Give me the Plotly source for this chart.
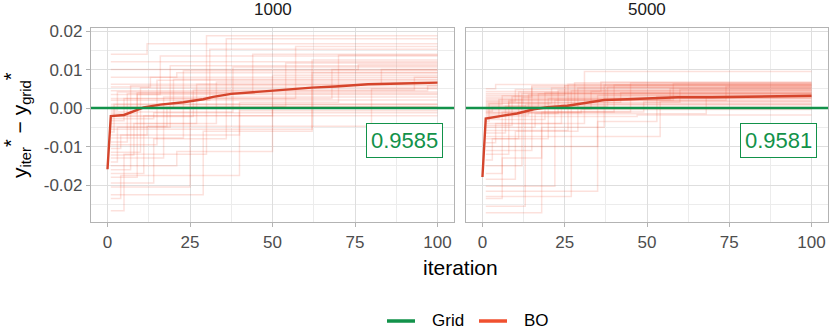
import plotly.graph_objects as go

W, H = 830, 329

# ---------------- data ----------------
panels = ["1000", "5000"]
best_scores = ["0.9585", "0.9581"]
legend_names = ["Grid", "BO"]

# individual BO runs: change points (iteration, y_iter* - y_grid*), held until iteration 100
runs_1000 = [
    [(1, -0.0267), (5, -0.0120), (30, 0.0188)],
    [(1, -0.0225), (29, -0.0060), (62, 0.0092)],
    [(1, -0.0205), (25, 0.0021)],
    [(1, -0.0195), (14, -0.0080), (36, 0.0180)],
    [(1, -0.0180), (9, 0.0040), (44, 0.0140)],
    [(1, -0.0170), (11, -0.0020), (50, 0.0085)],
    [(1, -0.0160), (7, 0.0058)],
    [(1, -0.0150), (21, -0.0113), (50, 0.0005)],
    [(1, -0.0140), (3, -0.0050), (19, 0.0110)],
    [(1, -0.0130), (17, 0.0029)],
    [(1, -0.0122), (8, -0.0040), (27, 0.0062), (83, 0.0100)],
    [(1, -0.0115), (10, 0.0053)],
    [(1, -0.0105), (4, -0.0070), (40, 0.0015), (70, 0.0137)],
    [(1, -0.0095), (15, 0.0072)],
    [(1, -0.0088), (6, 0.0038)],
    [(1, -0.0078), (23, 0.0097)],
    [(1, -0.0070), (12, -0.0047), (80, 0.0050)],
    [(1, -0.0062), (2, 0.0010)],
    [(1, -0.0055), (62, 0.0125)],
    [(1, -0.0048), (18, 0.0002)],
    [(1, -0.0040), (33, 0.0068)],
    [(1, -0.0033), (5, 0.0025), (57, 0.0160)],
    [(1, -0.0028), (14, -0.0012)],
    [(1, -0.0022), (26, 0.0047), (93, 0.0080)],
    [(1, -0.0015), (9, 0.0035)],
    [(1, -0.0010), (38, 0.0107)],
    [(1, -0.0005), (3, 0.0042)],
    [(1, 0.0000), (20, 0.0075)],
    [(1, 0.0005), (54, 0.0117)],
    [(1, 0.0010)],
    [(1, 0.0020), (31, 0.0153)],
    [(1, 0.0025), (68, 0.0100)],
    [(1, 0.0035), (16, 0.0135)],
    [(1, 0.0045), (97, 0.0058)],
    [(1, 0.0055), (13, 0.0080)],
    [(1, 0.0062)],
    [(1, 0.0080), (21, 0.0092)],
    [(1, 0.0100), (76, 0.0113)],
    [(1, 0.0120)],
    [(1, 0.0140), (12, 0.0167)],
    [(1, -0.0020)],
    [(1, -0.0235), (4, -0.0175), (40, -0.0007)],
]

runs_5000 = [
    [(1, -0.0272), (18, -0.0050), (37, 0.0060)],
    [(1, -0.0255), (13, 0.0010)],
    [(1, -0.0230), (27, 0.0045)],
    [(1, -0.0216), (35, -0.0035), (53, 0.0030)],
    [(1, -0.0203), (22, 0.0020)],
    [(1, -0.0185), (10, -0.0060), (29, 0.0052)],
    [(1, -0.0170), (6, -0.0010), (45, 0.0065)],
    [(1, -0.0150), (12, 0.0038)],
    [(1, -0.0135), (3, -0.0080), (20, 0.0025)],
    [(1, -0.0120), (8, 0.0015), (60, 0.0048)],
    [(1, -0.0110), (15, 0.0058)],
    [(1, -0.0100), (35, 0.0033)],
    [(1, -0.0090), (4, -0.0040), (24, 0.0008)],
    [(1, -0.0080), (11, 0.0042)],
    [(1, -0.0074), (54, 0.0018)],
    [(1, -0.0065), (7, 0.0005), (38, 0.0055)],
    [(1, -0.0058), (26, 0.0062)],
    [(1, -0.0050), (16, -0.0015), (68, 0.0028)],
    [(1, -0.0045), (9, 0.0030)],
    [(1, -0.0040), (31, 0.0095)],
    [(1, -0.0035), (2, 0.0012)],
    [(1, -0.0030), (19, 0.0040)],
    [(1, -0.0026), (5, 0.0022), (57, 0.0050)],
    [(1, -0.0022), (47, -0.0018)],
    [(1, -0.0018), (14, 0.0035)],
    [(1, -0.0014), (23, 0.0046)],
    [(1, -0.0010), (40, 0.0060)],
    [(1, -0.0008), (3, 0.0002)],
    [(1, -0.0005), (12, 0.0027)],
    [(1, -0.0002), (33, 0.0044)],
    [(1, 0.0000), (8, 0.0020), (74, 0.0056)],
    [(1, 0.0003), (17, 0.0037)],
    [(1, 0.0006), (28, 0.0066)],
    [(1, 0.0009), (6, 0.0032)],
    [(1, 0.0012), (21, 0.0052)],
    [(1, 0.0015), (42, 0.0040)],
    [(1, 0.0018), (10, 0.0048)],
    [(1, 0.0021), (58, 0.0063)],
    [(1, 0.0025)],
    [(1, 0.0029), (15, 0.0054)],
    [(1, 0.0033), (25, 0.0058)],
    [(1, 0.0038)],
    [(1, 0.0043), (36, 0.0068)],
    [(1, 0.0050), (4, 0.0061)],
    [(1, -0.0012), (30, -0.0004)],
    [(1, -0.0235), (6, -0.0130), (18, -0.0010), (49, 0.0016)],
]

# mean BO curve
mean_iter_1000 = [0, 1, 5, 8, 11, 16, 23, 29, 32, 37.5, 43.6, 48.7, 55.8, 61.9, 69, 79, 89, 100]
mean_val_1000 = [-0.0159, -0.0021, -0.0018, -0.0008, 0.0002, 0.0009, 0.0015, 0.0023, 0.0029,
                 0.0037, 0.0041, 0.0045, 0.0048, 0.0053, 0.0056, 0.0062, 0.0064, 0.0066]
mean_iter_5000 = [0, 1, 5.4, 10.5, 15.6, 19.7, 25.8, 31.9, 37, 44, 50, 59.4, 69.6, 79.8, 90, 100]
mean_val_5000 = [-0.0179, -0.0027, -0.0021, -0.0014, -0.0003, 0.0002, 0.0006, 0.0015, 0.0021,
                 0.0023, 0.0025, 0.0028, 0.0028, 0.0029, 0.0030, 0.0032]

grid_level = 0.0
label_x = 90
label_y = -0.0083
last_iter = 100

x_ticks = [0, 25, 50, 75, 100]
y_ticks = [-0.02, -0.01, 0.00, 0.01, 0.02]
y_tick_text = ["-0.02", "-0.01", "0.00", "0.01", "0.02"]

# ---------------- style ----------------
GREEN = "#12924a"
RED = "#f0502f"
RED_MEAN = "#d5452c"
RUN_COLOR = "rgba(240,80,47,0.17)"
FONT = "Liberation Sans, Arial, sans-serif"

fig = go.Figure()

all_runs = [runs_1000, runs_5000]
means = [(mean_iter_1000, mean_val_1000), (mean_iter_5000, mean_val_5000)]

for i, runs in enumerate(all_runs):
    xa = "x" if i == 0 else "x2"
    ya = "y" if i == 0 else "y2"
    for run in runs:
        xs = [p[0] for p in run] + [last_iter]
        ys = [p[1] for p in run] + [run[-1][1]]
        fig.add_trace(go.Scatter(x=xs, y=ys, mode="lines", line=dict(color=RUN_COLOR, width=1.5, shape="hv"),
                                 xaxis=xa, yaxis=ya, showlegend=False, hoverinfo="skip"))
    mx, my = means[i]
    fig.add_trace(go.Scatter(x=mx, y=my, mode="lines", line=dict(color=RED_MEAN, width=2.4),
                             xaxis=xa, yaxis=ya, showlegend=False))
    fig.add_shape(type="line", xref=xa + " domain", yref=ya,
                  x0=0, x1=1, y0=grid_level, y1=grid_level, line=dict(color=GREEN, width=2.4))
    fig.add_annotation(x=label_x, y=label_y, xref=xa, yref=ya, text=best_scores[i], showarrow=False,
                       font=dict(family=FONT, size=22, color=GREEN), bgcolor="white",
                       bordercolor=GREEN, borderwidth=1, borderpad=4)


def px_x(p):
    return p / W


def px_y(p):
    return 1 - p / H


grid_style = dict(showgrid=True, gridcolor="#dedede", gridwidth=1, zeroline=False, automargin=False,
                  showline=True, mirror=True, linecolor="#b3b3b3", linewidth=1.2)
x_common = dict(range=[-5, 105], tickvals=x_ticks,
                minor=dict(dtick=12.5, tick0=0, showgrid=True, gridcolor="#ececec", gridwidth=0.6),
                ticks="outside", ticklen=4, tickcolor="#b3b3b3",
                tickfont=dict(family=FONT, size=17, color="#4d4d4d"), **grid_style)
y_minor = dict(dtick=0.005, tick0=0, showgrid=True, gridcolor="#ececec", gridwidth=0.6)

fig.update_layout(
    width=W, height=H, margin=dict(l=0, r=0, t=0, b=0, autoexpand=False),
    plot_bgcolor="white", paper_bgcolor="white", showlegend=False,
    xaxis=dict(domain=[px_x(91), px_x(454)], anchor="y", **x_common),
    xaxis2=dict(domain=[px_x(466), px_x(828)], anchor="y2", **x_common),
    yaxis=dict(domain=[px_y(222), px_y(28)], range=[-0.0296, 0.0208], tickvals=y_ticks, ticktext=y_tick_text,
               minor=y_minor, ticks="outside", ticklen=4, tickcolor="#b3b3b3",
               tickfont=dict(family=FONT, size=17, color="#4d4d4d"), anchor="x", **grid_style),
    yaxis2=dict(domain=[px_y(222), px_y(28)], range=[-0.0296, 0.0208], anchor="x2",
                tickvals=y_ticks, showticklabels=False, minor=y_minor, ticks="", **grid_style),
)

# legend drawn as keys + labels at the bottom
legend_colors = [GREEN, RED]
key_left = [387, 479]
for name, col, kx in zip(legend_names, legend_colors, key_left):
    fig.add_shape(type="line", xref="paper", yref="paper", x0=px_x(kx), x1=px_x(kx + 28),
                  y0=px_y(321), y1=px_y(321), line=dict(color=col, width=3.5))
    fig.add_annotation(x=px_x(kx + 43), y=px_y(320), xref="paper", yref="paper", text=name,
                       xanchor="left", yanchor="middle", showarrow=False,
                       font=dict(family=FONT, size=17, color="black"))

# strip labels and axis titles
fig.add_annotation(x=px_x(273), y=px_y(10), xref="paper", yref="paper", text=panels[0],
                   xanchor="center", yanchor="middle", showarrow=False,
                   font=dict(family=FONT, size=17, color="#1a1a1a"))
fig.add_annotation(x=px_x(647), y=px_y(10), xref="paper", yref="paper", text=panels[1],
                   xanchor="center", yanchor="middle", showarrow=False,
                   font=dict(family=FONT, size=17, color="#1a1a1a"))
fig.add_annotation(x=px_x(460), y=px_y(267), xref="paper", yref="paper", text="iteration",
                   xanchor="center", yanchor="middle", showarrow=False,
                   font=dict(family=FONT, size=21, color="black"))
star = "<sup><span style='font-size:20px'>*</span></sup>"
fig.add_annotation(x=px_x(17), y=px_y(125), xref="paper", yref="paper", textangle=-90,
                   xanchor="center", yanchor="middle",
                   text="y<sub>iter</sub>" + star + " \u2212 y<sub>grid</sub>" + star,
                   showarrow=False, font=dict(family=FONT, size=21, color="black"))

# remove the page's default body margin so the figure fills the window exactly
fig.write_html("out.html", config={"displayModeBar": False},
               post_script="document.body.style.margin='0px';")
